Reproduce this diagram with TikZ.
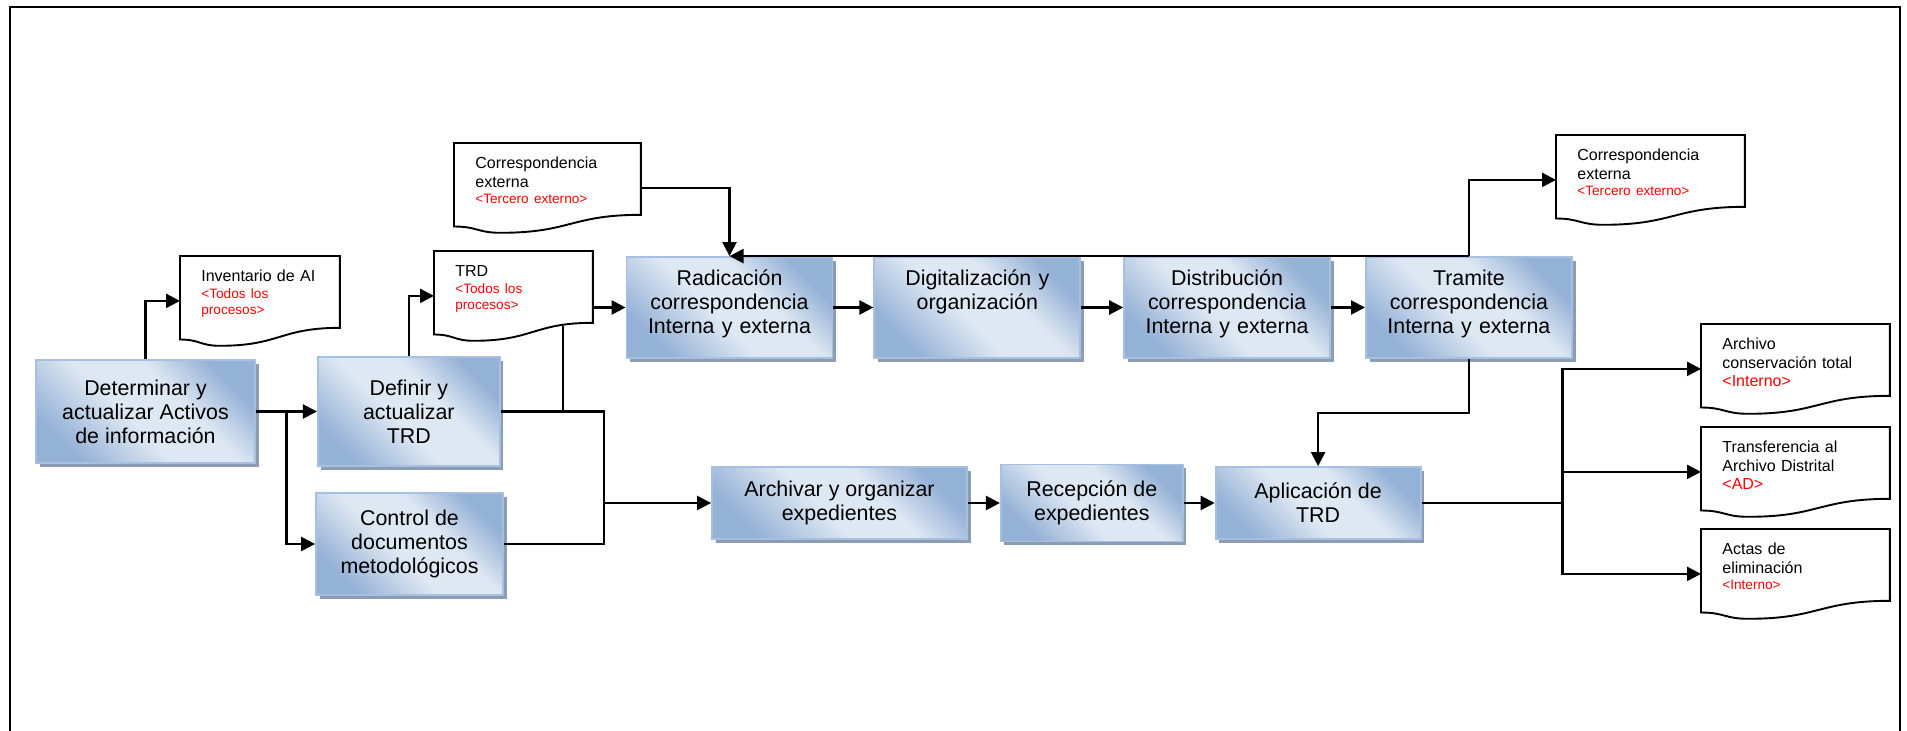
\documentclass[tikz,border=0pt]{standalone}
\usepackage{fontspec}
\setmainfont{Liberation Sans}
\usetikzlibrary{arrows.meta,positioning,calc,shadows}

\definecolor{proclight}{HTML}{DEE8F3}
\definecolor{procdark}{HTML}{94B1D6}
\definecolor{procline}{HTML}{A7C0DF}
\definecolor{procshadow}{HTML}{8B9CB4}
\pgfdeclarehorizontalshading{procshade}{100bp}{color(0bp)=(procdark); color(25bp)=(procdark); color(45bp)=(proclight); color(60bp)=(proclight); color(75bp)=(procdark); color(100bp)=(procdark)}

\newcommand\docpath[1]{%
  \draw[line width=0.95pt]
    ($(#1.south east)!0.2!(#1.north east)$) coordinate (dr)
    ($(#1.south west)!0.25!(#1.south east)$) coordinate (db)
    ($(#1.south west)!0.07!(#1.north west)$) coordinate (dl)
    (dr) -- (#1.north east) -- (#1.north west) -- (dl)
    .. controls ($(dl)!0.5!(dl -| db)$) and ($(db)!0.5!(db -| dl)$) .. (db)
    .. controls ($(db)!0.5!(db -| dr)$) and ($(dr)!0.5!(dr -| db)$) .. (dr) -- cycle;}
\newcommand\redtag[1]{\par{\color{red}\fontsize{6.8}{8.2}\selectfont #1\par}}
\newcommand\redbig[1]{\par{\color{red}#1\par}}

\begin{document}
\begin{tikzpicture}[x=0.5pt, y=-0.5pt, node distance=20pt,
  procbox/.style={draw=procline, line width=0.9pt, shade, shading=procshade, shading angle=45,
    drop shadow={shadow xshift=1.8pt, shadow yshift=-2pt, fill=procshadow, opacity=1},
    align=center, inner sep=2pt, font=\fontsize{10.7}{12}\selectfont},
  toprow/.style={procbox, minimum width=103pt, minimum height=50.5pt, text width=99pt,
    text height=12.5pt, text depth=34pt},
  lowrow/.style={procbox, minimum height=36pt},
  docbox/.style={anchor=north west, align=left, inner xsep=10.5pt, inner ysep=2pt,
    text height=10.8pt, text depth=29.7pt, font=\fontsize{8}{9.2}\selectfont,
    append after command={\pgfextra{\edef\dn{\tikzlastnode}\docpath{\dn}}}},
  link/.style={line width=1.2pt},
  arr/.style={link, -{Triangle[length=7pt, width=7pt]}}]
  \useasboundingbox (0,0) rectangle (1907,731);
  \draw[line width=1.3pt] (10,731) -- (10,7) -- (1900,7) -- (1900,731);

  \node[procbox, minimum width=109.5pt, minimum height=51.5pt] (det) at (145.5,411.5) {Determinar y\\actualizar Activos\\de información};
  \node[procbox, minimum width=91pt, minimum height=54.5pt, right=30.5pt of det] (def) {Definir y\\actualizar\\TRD};
  \node[procbox, minimum width=93.5pt, minimum height=51pt] (ctl) at (409.5,544) {Control de\\documentos\\metodológicos};
  \node[toprow] (rad) at (729.5,307.5) {Radicación\\correspondencia\\Interna y externa};
  \node[toprow, right=of rad] (dig) {Digitalización y\\organización};
  \node[toprow, right=21pt of dig] (dis) {Distribución\\correspondencia\\Interna y externa};
  \node[toprow, right=17pt of dis] (tra) {Tramite\\correspondencia\\Interna y externa};
  \node[lowrow, minimum width=127.5pt] (arc) at (839.5,503) {Archivar y organizar\\expedientes};
  \node[lowrow, minimum width=91pt, minimum height=38.5pt, right=16pt of arc] (rec) {Recepción de\\expedientes};
  \node[lowrow, minimum width=102.5pt, right=15.5pt of rec] (apl) {Aplicación de\\TRD};

  \node[docbox, text width=58.5pt] (inv) at (180,256) {Inventario de AI\redtag{<Todos los\\procesos>}};
  \node[docbox, text width=58pt] (trd) at (434,251) {TRD\redtag{<Todos los\\procesos>}};
  \node[docbox, text width=72pt] (cel) at (454,143) {Correspondencia\\externa\redtag{<Tercero externo>}};
  \node[docbox, text width=73pt] (cer) at (1556,135) {Correspondencia\\externa\redtag{<Tercero externo>}};
  \node[docbox, text width=73pt] (arch) at (1701,324) {Archivo\\conservación total\redbig{<Interno>}};
  \node[docbox, text width=73pt] (trf) at (1701,427) {Transferencia al\\Archivo Distrital\redbig{<AD>}};
  \node[docbox, text width=73pt] (act) at (1701,529) {Actas de\\eliminación\redtag{<Interno>}};

  \draw[arr] (det) -- (def);
  \draw[arr] (det.east) -- ($(det.east)!0.5!(def.west)$) |- (ctl);
  \draw[arr] (det.north) |- (inv.west);
  \draw[arr] (def.north) |- (trd.west);
  \draw[arr] (trd.east |- rad.west) -- (rad.west);
  \coordinate (jn) at ($(arc.west)+(-53.5pt,0)$);
  \draw[arr] (def.east) -| (jn) -- (arc.west);
  \draw[link] (ctl.east) -| (jn);
  \coordinate (tj) at ($(trd.south east)+(-15pt,7.5pt)$);
  \draw[link] (tj) -- (tj |- def.east);
  \draw[arr] (cel.east) -| (rad.north);
  \draw[arr] (tra.north) -- (rad.north);
  \draw[arr] (tra.north) |- (cer.west);
  \draw[arr] (rad) -- (dig);
  \draw[arr] (dig) -- (dis);
  \draw[arr] (dis) -- (tra);
  \draw[arr] (tra.south) -- ++(0,-27pt) -| (apl.north);
  \draw[arr] (arc) -- (rec);
  \draw[arr] (rec) -- (apl);
  \coordinate (bj) at ($(apl.east)+(70.5pt,0)$);
  \draw[link] (apl.east) -- (bj);
  \draw[arr] (bj) |- (arch.west);
  \draw[arr] (bj) |- (trf.west);
  \draw[arr] (bj) |- (act.west);
\end{tikzpicture}
\end{document}
